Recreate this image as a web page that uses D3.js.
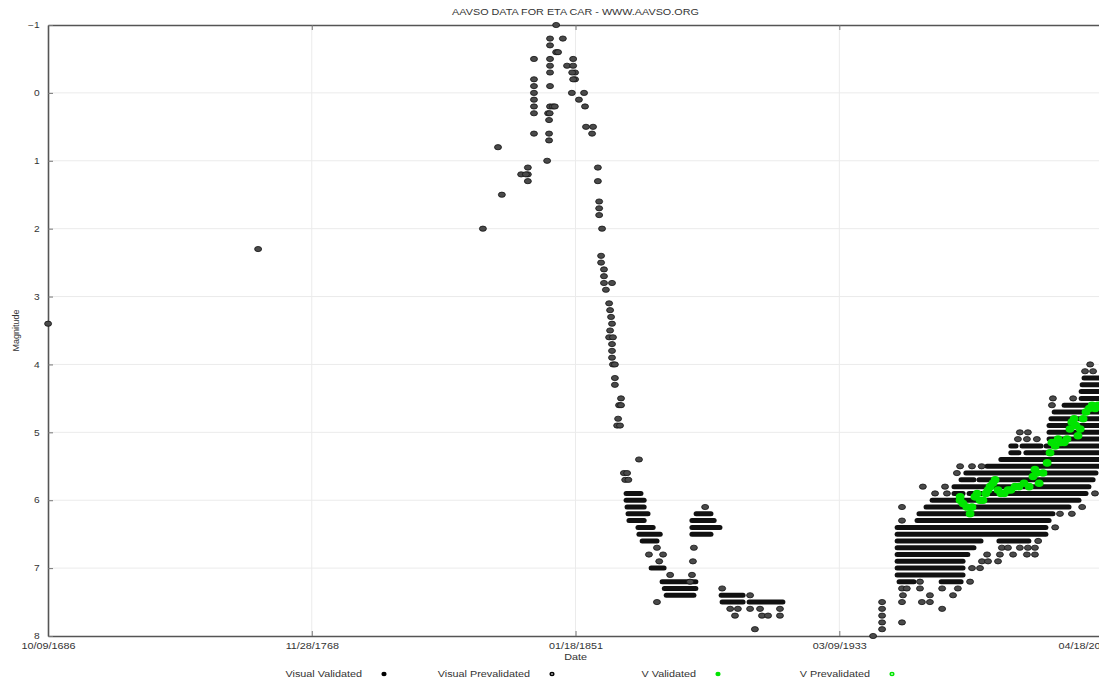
<!DOCTYPE html>
<html lang="en">
<head>
  <meta http-equiv="Content-Type" content="text/html; charset=utf-8">
  <title>AAVSO data for Eta Car</title>
  <style type="text/css">
    body { margin: 0; background: #fff; }
    svg  { display: block; }
    text { font-family: "Liberation Sans", Arial, sans-serif; fill: #333; }
  </style>
</head>
<body>
<script src="https://cdn.jsdelivr.net/npm/d3@7"></script>
<script>
  //----------------------------------------------------------------------------
  var titleText = "AAVSO DATA FOR ETA CAR - WWW.AAVSO.ORG";
  var xLabel = "Date";
  var yLabel = "Magnitude";
  var xTickLabels = ["10/09/1686", "11/28/1768", "01/18/1851", "03/09/1933", "04/18/2015"];
  var yTicks = [-1, 0, 1, 2, 3, 4, 5, 6, 7, 8];
  var legendLabels = ["Visual Validated", "Visual Prevalidated", "V Validated", "V Prevalidated"];

  // single visual estimates: [decimal year, magnitude]
  var visualPoints = [
    [1686.8, 3.4], [1752.2, 2.3], [1822.2, 2.0], [1826.9, 0.8], [1828.1, 1.5],
    [1834.1, 1.2], [1836.2, 1.1], [1836.2, 1.2], [1836.2, 1.3], [1835.6, 1.2],
    [1838.1, -0.5], [1838.1, -0.2], [1838.1, -0.1], [1838.1, 0.0], [1838.1, 0.1],
    [1838.1, 0.2], [1838.1, 0.3], [1838.1, 0.6],
    [1842.2, 1.0], [1842.5, 0.3], [1843.0, 0.3], [1842.8, 0.4], [1842.8, 0.6], [1842.8, 0.7],
    [1843.1, -0.8], [1843.1, -0.7], [1843.1, -0.5], [1843.1, -0.4], [1843.1, -0.3],
    [1843.1, -0.1], [1843.1, 0.2], [1844.0, 0.2], [1844.6, 0.2],
    [1845.0, -1.0], [1845.0, -0.6], [1845.6, -0.6], [1847.1, -0.8], [1848.4, -0.4],
    [1849.9, 0.0], [1850.3, -0.5], [1850.3, -0.4], [1850.9, -0.3], [1850.9, -0.2],
    [1850.0, -0.3], [1850.3, -0.2], [1852.1, 0.1], [1853.7, 0.0], [1854.0, 0.2],
    [1854.3, 0.5], [1856.5, 0.5], [1856.2, 0.6],
    [1858.0, 1.1], [1858.0, 1.3], [1858.4, 1.6], [1858.4, 1.7], [1858.4, 1.8], [1859.3, 2.0],
    [1859.0, 2.4], [1859.0, 2.5], [1859.9, 2.6], [1859.9, 2.7], [1859.9, 2.8], [1862.4, 2.8],
    [1860.5, 2.9], [1861.5, 3.1], [1861.8, 3.2], [1862.1, 3.3], [1862.4, 3.4], [1861.8, 3.5],
    [1861.5, 3.6], [1862.7, 3.6], [1862.4, 3.7], [1862.4, 3.8], [1862.4, 3.9], [1862.7, 4.0],
    [1863.3, 4.0], [1863.3, 4.2], [1863.3, 4.3], [1865.2, 4.5], [1864.6, 4.6], [1865.2, 4.6],
    [1864.3, 4.8], [1864.0, 4.9], [1864.9, 4.9], [1870.8, 5.4],
    [1866.1, 5.6], [1867.1, 5.6], [1866.5, 5.7], [1867.5, 5.7],
    [1876.4, 6.7], [1873.9, 6.8], [1878.3, 6.8], [1877.1, 6.9], [1880.5, 7.1], [1876.4, 7.5],
    [1891.4, 6.1], [1887.9, 6.7], [1887.6, 6.9], [1887.3, 7.1], [1886.7, 7.2],
    [1896.7, 7.3], [1905.4, 7.4], [1899.2, 7.6], [1901.6, 7.6], [1905.4, 7.6], [1908.5, 7.6],
    [1914.7, 7.6], [1900.7, 7.7], [1909.1, 7.7], [1911.0, 7.7], [1914.7, 7.7], [1906.9, 7.9],
    [1943.7, 8.0], [1946.5, 7.5], [1946.5, 7.6], [1946.5, 7.7], [1946.5, 7.8], [1946.5, 7.9],
    [1952.7, 6.1], [1952.7, 6.3], [1959.2, 5.8], [1963.0, 5.9], [1966.1, 5.8], [1966.7, 5.9],
    [1969.8, 5.6], [1970.8, 5.5], [1974.5, 5.5], [1977.5, 5.5],
    [1958.3, 7.2], [1973.9, 7.2], [1952.7, 7.3], [1954.2, 7.3], [1958.3, 7.3], [1965.2, 7.3],
    [1970.1, 7.3], [1953.0, 7.4], [1961.4, 7.4], [1968.6, 7.4], [1952.7, 7.5], [1958.9, 7.5],
    [1961.4, 7.5], [1965.2, 7.6], [1952.7, 7.8], [1974.5, 7.0], [1977.0, 7.0],
    [1977.6, 6.9], [1979.5, 6.9], [1982.6, 6.9],
    [1983.8, 6.7], [1985.7, 6.7], [1989.4, 6.7], [1991.9, 6.7], [1994.1, 6.7],
    [1979.2, 6.8], [1983.2, 6.8], [1987.3, 6.8], [1991.6, 6.8], [1994.1, 6.8],
    [1995.1, 6.6], [2000.4, 6.4], [2001.9, 6.2], [2005.6, 6.2], [2008.8, 6.1], [2012.8, 5.9],
    [1989.4, 5.0], [1991.9, 5.0], [1988.8, 5.1], [1991.6, 5.1], [1994.7, 5.1],
    [1999.7, 4.5], [2006.0, 4.5], [1999.4, 4.6], [2011.3, 4.0], [2009.7, 4.1], [2012.2, 4.1]
  ];

  // runs of overlapping visual estimates: [magnitude, from year, to year]
  var visualRuns = [
    [5.9, 1867.1, 1871.1], [6.0, 1867.1, 1872.1], [6.1, 1867.4, 1872.1], [6.2, 1867.7, 1873.3],
    [6.3, 1868.0, 1872.1], [6.4, 1870.8, 1874.9], [6.5, 1871.1, 1877.1], [6.6, 1872.1, 1876.1],
    [7.0, 1874.9, 1878.3], [7.2, 1878.3, 1888.2], [7.3, 1879.0, 1888.2], [7.4, 1879.6, 1887.6],
    [6.2, 1888.9, 1892.9], [6.3, 1887.6, 1893.9], [6.4, 1887.6, 1895.7], [6.5, 1887.6, 1892.9],
    [7.4, 1896.7, 1902.9], [7.5, 1897.0, 1902.9], [7.5, 1905.4, 1915.3],
    [4.2, 2009.7, 2016], [4.3, 2009.1, 2016], [4.4, 2008.8, 2016], [4.5, 2008.8, 2016],
    [4.6, 2003.5, 2016], [4.7, 2000.4, 2016], [4.8, 1999.4, 2016], [4.9, 1998.8, 2016],
    [5.0, 1998.8, 2016], [5.1, 1998.8, 2016],
    [5.2, 1986.9, 1987.9], [5.2, 1990.4, 1995.7], [5.2, 1997.9, 2016],
    [5.3, 1986.9, 1988.8], [5.3, 1991.6, 1996.3], [5.3, 1997.2, 2016],
    [5.4, 1983.8, 2016], [5.5, 1979.5, 2016], [5.6, 1972.9, 2012.8],
    [5.7, 1971.4, 1974.8], [5.7, 1977.0, 2011.9], [5.8, 1969.2, 2010.6],
    [5.9, 1969.2, 1971.4], [5.9, 1973.9, 2009.7], [6.0, 1962.4, 2007.5],
    [6.1, 1960.5, 2004.4], [6.2, 1958.3, 1999.4], [6.3, 1957.7, 1998.2],
    [6.4, 1951.5, 1997.2], [6.5, 1951.5, 1997.2], [6.6, 1951.5, 1977.0], [6.6, 1983.2, 1991.9],
    [6.7, 1951.5, 1974.8], [6.8, 1951.5, 1972.9], [6.9, 1951.5, 1971.4], [7.0, 1951.5, 1971.4],
    [7.1, 1951.5, 1971.4], [7.2, 1952.1, 1956.1], [7.2, 1965.2, 1970.8]
  ];

  // V band photometry: [decimal year, magnitude]
  var vPoints = [
    [1970.8, 5.95], [1970.8, 6.0], [1971.7, 6.05], [1972.9, 6.1], [1973.9, 6.2], [1974.5, 6.1],
    [1975.4, 5.95], [1976.1, 5.9], [1977.0, 6.0], [1977.9, 6.0], [1978.8, 5.9], [1979.5, 5.85],
    [1980.1, 5.8], [1981.0, 5.75], [1981.7, 5.7], [1982.6, 5.85], [1983.5, 5.9], [1984.5, 5.9],
    [1985.7, 5.85], [1986.6, 5.85], [1987.9, 5.8], [1989.1, 5.8], [1990.7, 5.75], [1992.3, 5.8],
    [1993.5, 5.65], [1994.1, 5.55], [1994.7, 5.6], [1995.4, 5.75], [1996.6, 5.6], [1997.9, 5.45],
    [1998.8, 5.3], [1999.4, 5.15], [2000.4, 5.2], [2001.3, 5.1], [2002.2, 5.15], [2003.2, 5.15],
    [2004.1, 5.1], [2005.0, 4.95], [2005.6, 4.85], [2006.3, 4.8], [2006.9, 4.9], [2007.5, 5.05],
    [2008.2, 4.95], [2009.1, 4.8], [2010.0, 4.7], [2011.0, 4.65], [2011.9, 4.6], [2012.8, 4.65],
    [2013.8, 4.6]
  ];

  //----------------------------------------------------------------------------
  var width = 1099;
  var height = 683;
  var margin = { left: 48, top: 25, right: 1103, bottom: 636 };
  var stretch = "scale(1.2,1)";
  var green = "#00e400";

  var parseDate = d3.timeParse("%m/%d/%Y");
  var tickDates = xTickLabels.map(parseDate);

  function yr(y) {
    var Y = Math.floor(y);
    return new Date(Y, 0, 1 + Math.round((y - Y) * 365.25));
  }

  var x = d3.scaleTime()
    .domain([tickDates[0], tickDates[tickDates.length - 1]])
    .range([margin.left, margin.right]);

  var y = d3.scaleLinear()
    .domain([-1, 8])
    .range([margin.top, margin.bottom]);

  var svg = d3.select("body")
    .append("svg")
      .attr("width", width)
      .attr("height", height);

  // grid
  svg.append("g").selectAll("line.h")
    .data(yTicks.slice(1, -1))
    .enter().append("line")
      .attr("x1", margin.left).attr("x2", margin.right)
      .attr("y1", function(d) { return y(d); })
      .attr("y2", function(d) { return y(d); })
      .attr("stroke", "#ebebeb");

  svg.append("g").selectAll("line.v")
    .data(tickDates.slice(1, -1))
    .enter().append("line")
      .attr("x1", function(d) { return x(d); })
      .attr("x2", function(d) { return x(d); })
      .attr("y1", margin.top).attr("y2", margin.bottom)
      .attr("stroke", "#ebebeb");

  // axes
  var fmt = d3.timeFormat("%m/%d/%Y");

  var xAxis = svg.append("g")
    .attr("transform", "translate(0," + margin.bottom + ")")
    .call(d3.axisBottom(x).tickValues(tickDates).tickFormat(fmt)
      .tickSizeInner(-5).tickSizeOuter(0).tickPadding(7));

  svg.append("g")
    .attr("transform", "translate(0," + margin.top + ")")
    .call(d3.axisTop(x).tickValues(tickDates).tickFormat("")
      .tickSizeInner(-5).tickSizeOuter(0));

  var yAxis = svg.append("g")
    .attr("transform", "translate(" + margin.left + ",0)")
    .call(d3.axisLeft(y).tickValues(yTicks).tickFormat(d3.format("d"))
      .tickSizeInner(-5).tickSizeOuter(0).tickPadding(7));

  svg.selectAll(".domain").attr("stroke", "#555").attr("stroke-width", 1.6);
  svg.selectAll(".tick line").attr("stroke", "#777");
  svg.selectAll(".tick text")
    .attr("fill", "#333")
    .attr("font-family", "'Liberation Sans', Arial, sans-serif")
    .attr("transform", stretch);
  xAxis.selectAll(".tick text").attr("font-size", 9);
  yAxis.selectAll(".tick text").attr("font-size", 8.5);
  // the last date label is pulled in, as in the original, and still runs off the page
  xAxis.selectAll(".tick text").filter(function(d, i) { return i === tickDates.length - 1; })
    .attr("x", -15);

  // data
  var plot = svg.append("g");

  plot.selectAll("rect.run")
    .data(visualRuns)
    .enter().append("rect")
      .attr("x", function(d) { return x(yr(d[1])) - 3.5; })
      .attr("y", function(d) { return y(d[0]) - 2.5; })
      .attr("width", function(d) { return x(yr(d[2])) - x(yr(d[1])) + 7; })
      .attr("height", 5)
      .attr("rx", 2.5)
      .attr("fill", "#111");

  plot.selectAll("ellipse.vis")
    .data(visualPoints)
    .enter().append("ellipse")
      .attr("cx", function(d) { return x(yr(d[0])); })
      .attr("cy", function(d) { return y(d[1]); })
      .attr("rx", 3.5)
      .attr("ry", 2.6)
      .attr("fill", "#4a4a4a")
      .attr("stroke", "#111")
      .attr("stroke-width", 0.8);

  plot.selectAll("ellipse.v")
    .data(vPoints)
    .enter().append("ellipse")
      .attr("cx", function(d) { return x(yr(d[0])); })
      .attr("cy", function(d) { return y(d[1]); })
      .attr("rx", 4.4)
      .attr("ry", 3.8)
      .attr("fill", green);

  // labels
  function label(txt, tx, ty, size, anchor, rot) {
    svg.append("text")
      .attr("transform", "translate(" + tx + "," + ty + ")" + (rot ? " rotate(-90)" : " " + stretch))
      .attr("text-anchor", anchor)
      .attr("font-size", size)
      .text(txt);
  }

  label(titleText, (margin.left + margin.right) / 2, 15, 9, "middle");
  label(xLabel, x(tickDates[2]), 660, 9, "middle");
  label(yLabel, 19, (margin.top + margin.bottom) / 2, 9, "middle", true);

  // legend
  var legendEnd = [362, 530, 696, 870];
  legendLabels.forEach(function(txt, i) {
    label(txt, legendEnd[i], 677, 9, "end");
    var g = svg.append("g").attr("transform", "translate(" + (legendEnd[i] + 22) + ",674)");
    var col = i < 2 ? "#000" : green;
    g.append("ellipse").attr("rx", 2.6).attr("ry", 2.2).attr("fill", col);
    if (i % 2 === 1) {
      g.append("ellipse").attr("rx", 1.1).attr("ry", 0.9).attr("fill", i < 2 ? "#999" : "#aaffaa");
    }
  });

  //----------------------------------------------------------------------------
</script>
</body>
</html>
